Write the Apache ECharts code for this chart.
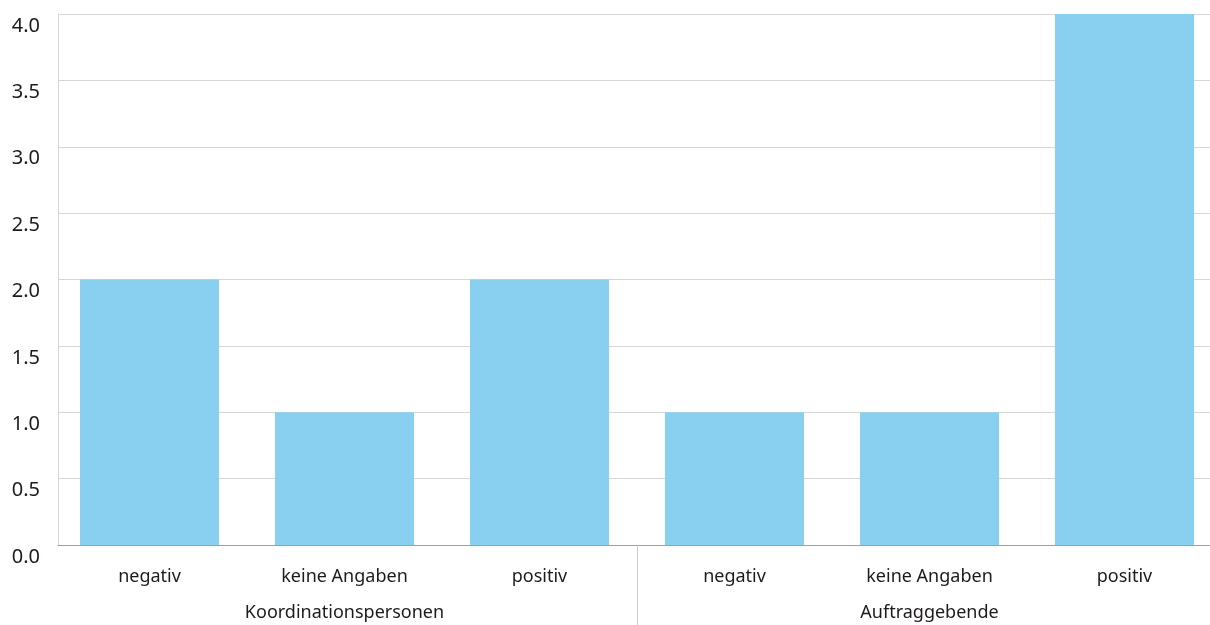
<!DOCTYPE html>
<html>
<head>
<meta charset="utf-8">
<script src="https://cdn.jsdelivr.net/npm/echarts@6/dist/echarts.min.js"></script>
<style>
  html, body { margin: 0; padding: 0; background: #fff; }
  #chart { width: 1210px; height: 625px; }
</style>
</head>
<body>
<div id="chart"></div>
<script>
// Daten
const categories = ['negativ', 'keine Angaben', 'positiv', 'negativ', 'keine Angaben', 'positiv'];
const groups = ['Koordinationspersonen', 'Auftraggebende'];
const values = [2, 1, 2, 1, 1, 4];
const yTicks = [0, 0.5, 1, 1.5, 2, 2.5, 3, 3.5, 4];

const textColor = '#1e1a1b';
const font = 'Noto Sans';

const myChart = echarts.init(document.getElementById('chart'));
myChart.setOption({
  animation: false,
  textStyle: { fontFamily: font },
  grid: [
    // Rahmen mit y-Achse
    { left: 58, right: 0, top: 14, bottom: 80, outerBoundsMode: 'none', containLabel: false },
    // Balken
    { left: 52, width: 1170, top: 14, bottom: 80, outerBoundsMode: 'none', containLabel: false },
    // Trennlinie zwischen den Gruppen
    { left: -63, width: 1400, top: 14, bottom: 80, outerBoundsMode: 'none', containLabel: false }
  ],
  xAxis: [
    {
      gridIndex: 0,
      type: 'category',
      data: categories,
      axisLine: { show: true, lineStyle: { color: '#a0a0a0', width: 1 } },
      axisTick: { show: false },
      axisLabel: { show: false }
    },
    {
      gridIndex: 1,
      type: 'category',
      data: categories,
      axisLine: { show: false },
      axisTick: { show: false },
      axisLabel: { color: textColor, fontSize: 18, margin: 23, interval: 0 }
    },
    {
      gridIndex: 1,
      type: 'category',
      position: 'bottom',
      offset: 36,
      data: groups,
      axisLine: { show: false },
      axisTick: { show: false },
      axisLabel: { color: textColor, fontSize: 18, margin: 23, interval: 0 }
    },
    {
      gridIndex: 2,
      type: 'category',
      data: ['', ''],
      axisLine: { show: false },
      axisTick: { show: true, length: 80, lineStyle: { color: '#cccccc', width: 1 } },
      axisLabel: { show: false }
    }
  ],
  yAxis: [
    {
      gridIndex: 0,
      type: 'value',
      min: yTicks[0],
      max: yTicks[yTicks.length - 1],
      interval: 0.5,
      axisLine: { show: true, lineStyle: { color: '#d6d6d6' } },
      axisTick: { show: false },
      splitLine: { lineStyle: { color: '#d6d6d6', width: 1 } },
      axisLabel: {
        color: textColor,
        fontSize: 20,
        margin: 18,
        verticalAlign: 'top',
        padding: [2, 0, 0, 0],
        formatter: function (value) {
          return value.toFixed(1);
        }
      }
    },
    { gridIndex: 1, type: 'value', min: 0, max: 4, show: false },
    { gridIndex: 2, type: 'value', min: 0, max: 4, show: false }
  ],
  series: [
    {
      type: 'bar',
      xAxisIndex: 1,
      yAxisIndex: 1,
      data: values,
      barWidth: 139,
      itemStyle: { color: '#89cff0' }
    }
  ]
});
window.onresize = function () {
  myChart.resize();
};
</script>
</body>
</html>
